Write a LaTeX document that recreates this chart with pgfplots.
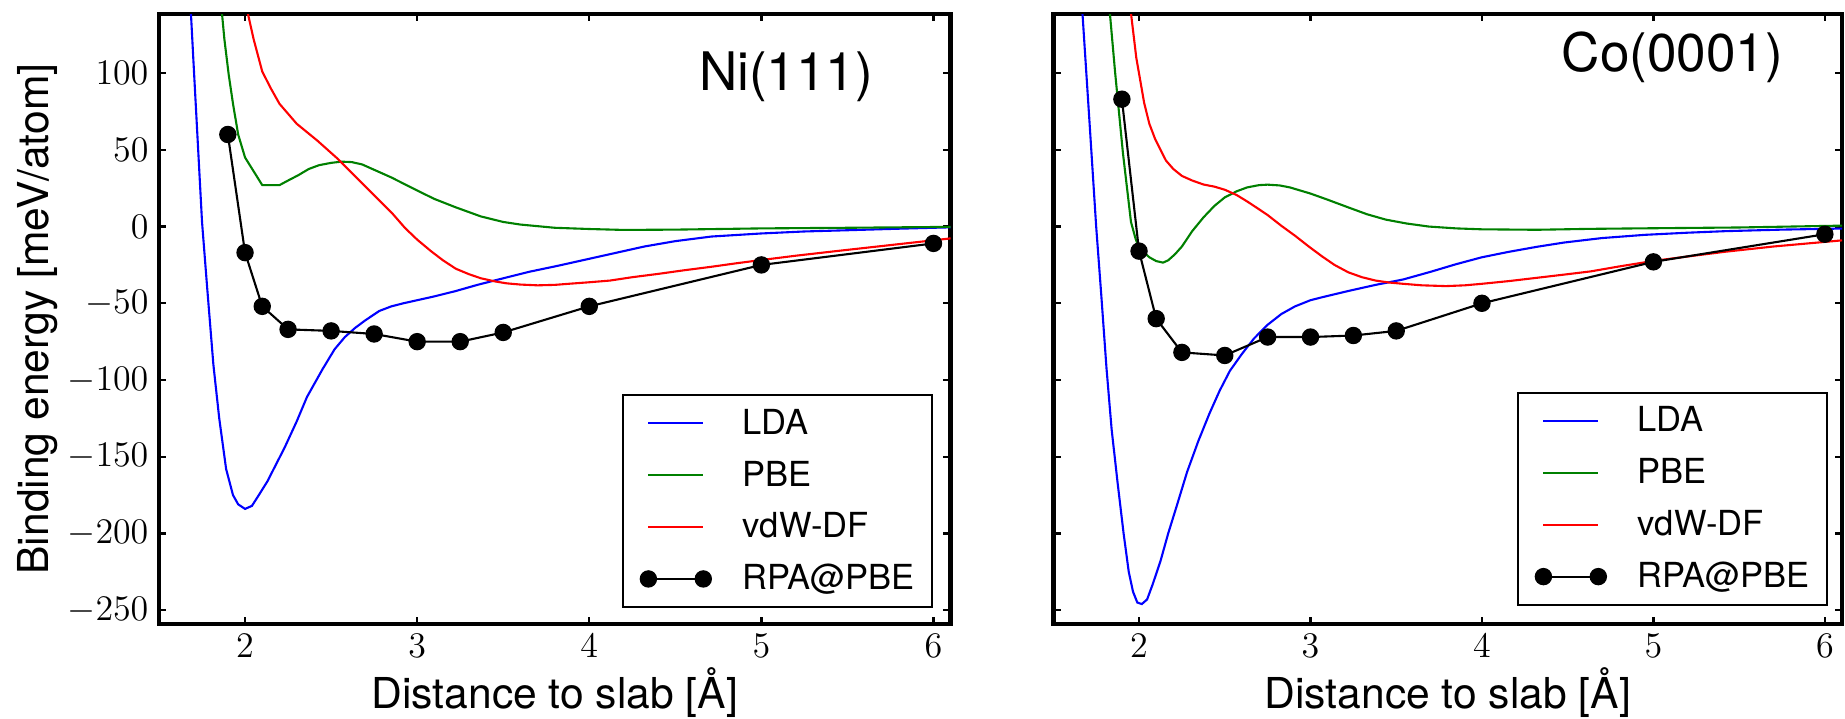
\documentclass[border=0pt]{standalone}
\usepackage{fontspec}
\setmainfont{TeX Gyre Heros}
\usepackage{pgfplots}
\pgfplotsset{compat=1.18}
\definecolor{mplblue}{rgb}{0,0,1}
\definecolor{mplgreen}{rgb}{0,0.5,0}
\definecolor{mplred}{rgb}{1,0,0}

\pgfplotsset{
  bindaxis/.style={
    scale only axis, height=203.33pt,
    xmin=1.5, xmax=6.1, ymin=-259, ymax=138.5,
    xtick={2,3,4,5,6}, ytick={-250,-200,-150,-100,-50,0,50,100},
    tick align=inside, major tick length=2.4pt,
    tick style={line width=0.8pt, black},
    axis line style={line width=1.6pt},
    tick label style={font=\fontsize{11.7}{14}\selectfont},
    label style={font=\fontsize{14.2}{17}\selectfont},
    xlabel={Distance to slab [Å]},
    xlabel style={at={(rel axis cs:0.5,0)}, anchor=base, yshift=-28.3pt},
    legend cell align=left,
    legend image code/.code={\draw[#1] plot coordinates {(2.6pt,0pt) (20.9pt,0pt)};},
    legend style={
      anchor=south east, draw=black, line width=0.7pt, fill=white,
      font=\fontsize{11.5}{13}\selectfont,
      inner xsep=5.8pt, inner ysep=4.8pt, row sep=8pt, column sep=10.4pt,
      nodes={inner sep=0pt, text height=8.3pt, text depth=1pt},
    },
  },
  lda/.style={mplblue, line width=0.7pt, mark=none},
  pbe/.style={mplgreen, line width=0.7pt, mark=none},
  vdw/.style={mplred, line width=0.7pt, mark=none},
  rpa/.style={black, line width=0.7pt, mark=*, mark size=2.7pt, mark options={fill=black, line width=0.4pt}},
}

\begin{document}
\begin{tikzpicture}
\begin{axis}[bindaxis, width=263.9pt,
  at={(53pt,31.33pt)}, anchor=south west,
  ylabel={Binding energy [meV/atom]},
  ylabel style={at={(rel axis cs:-0.140,0.5)}, anchor=base},
  legend style={at={(rel axis cs:0.978,0.0257)}},
]
\addplot[lda] coordinates {
(1.675,162) (1.686,138) (1.70,108) (1.73,45) (1.75,3) (1.78,-40) (1.816,-90)
(1.85,-125) (1.89,-158) (1.93,-175) (1.96,-181) (2.00,-184) (2.04,-182)
(2.08,-175) (2.13,-166) (2.18,-155) (2.23,-144) (2.30,-127) (2.36,-111)
(2.45,-93) (2.52,-80) (2.58,-72) (2.64,-66) (2.70,-61) (2.78,-55) (2.85,-52)
(2.92,-50) (3.00,-48) (3.10,-45.5) (3.225,-42) (3.35,-38) (3.49,-34)
(3.65,-29.5) (3.82,-25.5) (4.00,-21) (4.12,-18) (4.32,-13) (4.50,-9.5)
(4.71,-6.5) (5.00,-4.5) (5.25,-3.2) (5.50,-2.4) (5.80,-1.4) (6.10,-0.5)
};
\addlegendentry{LDA}
\addplot[pbe] coordinates {
(1.855,160) (1.865,140) (1.88,122) (1.905,99) (1.93,80) (1.96,60) (2.00,45)
(2.05,36) (2.10,27) (2.20,27) (2.25,30) (2.31,33.5) (2.37,37.5) (2.43,40)
(2.50,41.5) (2.56,42.3) (2.62,42) (2.68,40.5) (2.75,37) (2.85,32) (3.00,23.5)
(3.10,18) (3.225,12.5) (3.37,6.6) (3.50,3) (3.60,1.3) (3.80,-0.8) (4.00,-1.6)
(4.20,-2.2) (4.50,-2) (4.75,-1.6) (5.00,-1.2) (5.50,-0.8) (6.10,-0.2)
};
\addlegendentry{PBE}
\addplot[vdw] coordinates {
(1.995,150) (2.02,137) (2.05,122) (2.10,101) (2.15,90) (2.20,80) (2.30,67)
(2.42,56) (2.54,44) (2.66,30.5) (2.78,17) (2.86,8) (2.93,-1) (3.00,-8.5)
(3.08,-16) (3.15,-22) (3.225,-27.5) (3.30,-31) (3.37,-33.7) (3.45,-35.7)
(3.52,-37) (3.60,-37.8) (3.70,-38.3) (3.80,-38) (3.88,-37.3) (4.00,-36.3)
(4.12,-35.2) (4.25,-33) (4.41,-30.7) (4.55,-28.5) (4.71,-26.2) (4.85,-24)
(5.00,-21.8) (5.20,-19) (5.45,-15.8) (5.70,-12.7) (6.10,-7.7)
};
\addlegendentry{vdW-DF}
\addplot[rpa] coordinates {
(1.90,60) (2.00,-17) (2.10,-52) (2.25,-67) (2.50,-68) (2.75,-70) (3.00,-75)
(3.25,-75) (3.50,-69) (4.00,-52) (5.00,-25) (6.00,-11)
};
\addlegendentry{RPA@PBE}
\node[anchor=base east, font=\fontsize{17.7}{20}\selectfont] at (rel axis cs:0.9154,0.8754) {Ni(111)};
\end{axis}

\begin{axis}[bindaxis, width=262.9pt,
  at={(351.1pt,31.33pt)}, anchor=south west,
  yticklabel=\empty,
  legend style={at={(rel axis cs:0.9826,0.0295)}},
]
\addplot[lda] coordinates {
(1.66,150) (1.67,139) (1.71,70) (1.75,0) (1.78,-45) (1.81,-92) (1.84,-132)
(1.875,-167) (1.91,-200) (1.94,-225) (1.965,-238) (1.99,-245) (2.016,-246)
(2.047,-243) (2.08,-233) (2.125,-218) (2.17,-200) (2.22,-182) (2.28,-160)
(2.345,-140) (2.41,-122) (2.47,-107) (2.53,-94) (2.60,-83) (2.67,-73)
(2.75,-64) (2.83,-57) (2.91,-52) (3.00,-48) (3.07,-46) (3.22,-42) (3.38,-38)
(3.54,-34.5) (3.70,-29.5) (3.85,-24.5) (4.00,-20) (4.16,-16.4) (4.32,-13.2)
(4.48,-10.4) (4.70,-7.5) (4.95,-5.4) (5.20,-4) (5.42,-3) (5.75,-2) (6.10,-1.3)
};
\addlegendentry{LDA}
\addplot[pbe] coordinates {
(1.82,150) (1.83,139) (1.86,101) (1.906,48) (1.953,3) (1.98,-8) (2.00,-14)
(2.06,-20) (2.10,-22.5) (2.14,-23.5) (2.17,-22) (2.21,-18) (2.25,-13)
(2.31,-3) (2.376,6) (2.44,13.5) (2.50,19) (2.57,23) (2.63,25.5) (2.70,27)
(2.75,27.3) (2.82,26.8) (2.88,25.5) (3.00,21.5) (3.10,17.5) (3.22,12.5)
(3.33,8) (3.44,4.5) (3.56,2) (3.69,0) (3.85,-1.2) (4.00,-1.8) (4.32,-2.1)
(4.63,-1.5) (5.00,-1.1) (5.50,-0.6) (6.10,0.6)
};
\addlegendentry{PBE}
\addplot[vdw] coordinates {
(1.94,150) (1.953,139) (1.984,110) (2.03,80.5) (2.06,67) (2.094,57)
(2.157,43) (2.20,37.5) (2.25,33) (2.31,30) (2.376,27.4) (2.44,26) (2.50,24)
(2.57,20.5) (2.63,16.4) (2.69,12) (2.75,7.5) (2.83,0.5) (2.91,-6) (2.99,-13)
(3.067,-19.4) (3.14,-25) (3.22,-29.8) (3.30,-33) (3.38,-35.2) (3.46,-36.5)
(3.54,-37.3) (3.65,-38.3) (3.79,-38.8) (3.90,-38.3) (4.00,-37.3)
(4.16,-35.5) (4.32,-33.4) (4.48,-31.3) (4.635,-29.2) (4.80,-26)
(5.00,-22.4) (5.20,-19.5) (5.42,-16.4) (5.70,-13) (6.10,-9)
};
\addlegendentry{vdW-DF}
\addplot[rpa] coordinates {
(1.90,83) (2.00,-16) (2.10,-60) (2.25,-82) (2.50,-84) (2.75,-72) (3.00,-72)
(3.25,-71) (3.50,-68) (4.00,-50) (5.00,-23) (6.00,-5)
};
\addlegendentry{RPA@PBE}
\node[anchor=base east, font=\fontsize{17.7}{20}\selectfont] at (rel axis cs:0.9386,0.9054) {Co(0001)};
\end{axis}
\pgfresetboundingbox
\path[use as bounding box] (0pt,0pt) rectangle (615pt,239.33pt);
\end{tikzpicture}
\end{document}
